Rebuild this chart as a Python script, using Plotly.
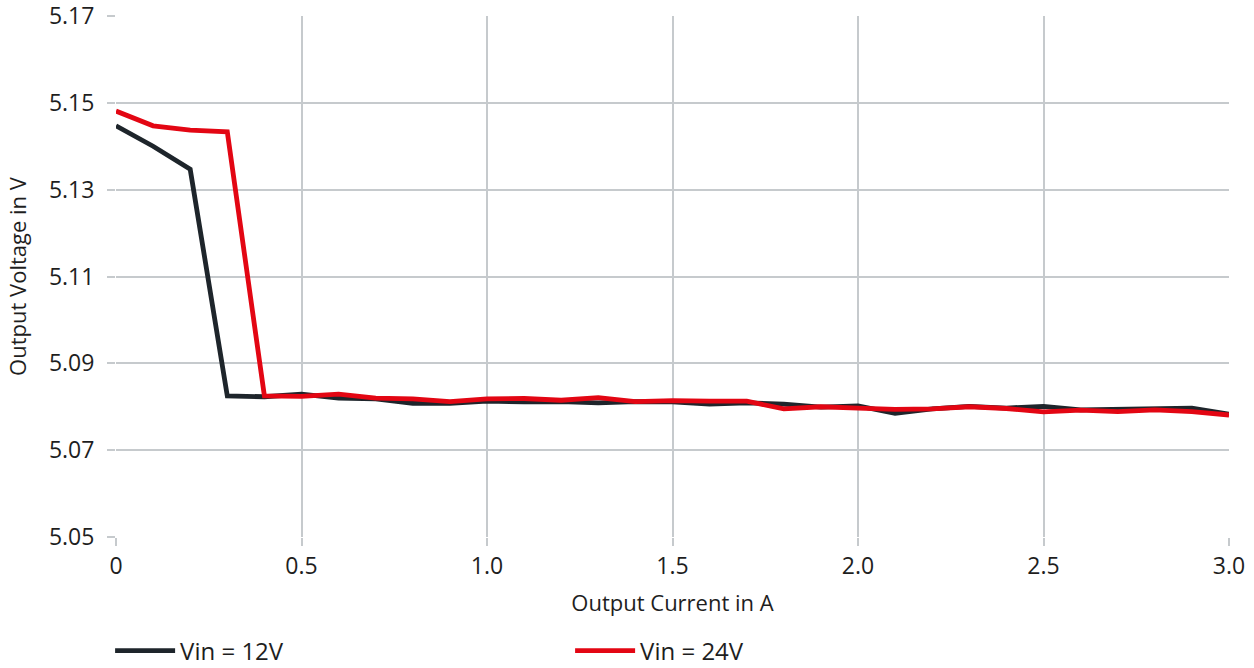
import plotly.graph_objects as go

current = [round(0.1 * i, 1) for i in range(31)]
v_12 = [5.1447, 5.1400, 5.1347, 5.0825, 5.0823, 5.0829, 5.0820, 5.0818, 5.0808, 5.0808,
        5.0813, 5.0811, 5.0812, 5.0809, 5.0812, 5.0811, 5.0806, 5.0809, 5.0806, 5.0799,
        5.0802, 5.0785, 5.0795, 5.0801, 5.0797, 5.0801, 5.0793, 5.0795, 5.0797, 5.0797, 5.0783]
v_24 = [5.1481, 5.1447, 5.1437, 5.1433, 5.0825, 5.0824, 5.0829, 5.0820, 5.0818, 5.0812,
        5.0818, 5.0819, 5.0815, 5.0821, 5.0812, 5.0814, 5.0813, 5.0813, 5.0795, 5.0800,
        5.0797, 5.0794, 5.0795, 5.0800, 5.0796, 5.0788, 5.0792, 5.0789, 5.0793, 5.0789, 5.0781]
names = ["Vin = 12V", "Vin = 24V"]
colors = ["#1e252b", "#e30613"]
x_ticks = [0, 0.5, 1.0, 1.5, 2.0, 2.5, 3.0]
x_ticktext = ["0", "0.5", "1.0", "1.5", "2.0", "2.5", "3.0"]
y_ticks = [5.05, 5.07, 5.09, 5.11, 5.13, 5.15, 5.17]

fig = go.Figure()
for vals, name, col in zip([v_12, v_24], names, colors):
    fig.add_trace(go.Scatter(x=current, y=vals, mode="lines", name=name,
                             line=dict(color=col, width=4.8)))

grid = "#c6cacd"
font = "Open Sans, Noto Sans, sans-serif"
fig.update_layout(
    width=1254, height=668,
    margin=dict(l=116, r=25, t=16, b=131, autoexpand=False),
    paper_bgcolor="white", plot_bgcolor="white",
    font=dict(family=font, size=23, color="#1e1e1e"),
    showlegend=True,
    legend=dict(orientation="h", xref="container", yref="container",
                x=0.0878, xanchor="left", y=0.0254, yanchor="middle",
                entrywidth=385, entrywidthmode="pixels", itemwidth=60,
                font=dict(size=24)),
    xaxis=dict(range=[0, 3.0], tickvals=x_ticks, ticktext=x_ticktext,
               showgrid=True, gridcolor=grid, gridwidth=2, zeroline=False,
               ticks="outside", ticklen=8, tickcolor=grid, tickwidth=2,
               tickfont=dict(size=23), automargin=False, ticklabeloverflow="allow",
               title=dict(text="Output Current in A", standoff=16, font=dict(size=22)),
               showline=False),
    yaxis=dict(range=[5.05, 5.17], tickvals=y_ticks, tickformat=".2f",
               showgrid=True, gridcolor=grid, gridwidth=2, zeroline=False,
               ticks="outside", ticklen=8, tickcolor=grid, tickwidth=2,
               tickfont=dict(size=23), automargin=False, ticklabelstandoff=8,
               ticklabeloverflow="allow",
               title=dict(text="Output Voltage in V", standoff=16, font=dict(size=22)),
               showline=False),
)
fig.write_html("out.html", config={"displayModeBar": False},
               post_script="document.body.style.margin='0';document.body.style.overflow='hidden';")
